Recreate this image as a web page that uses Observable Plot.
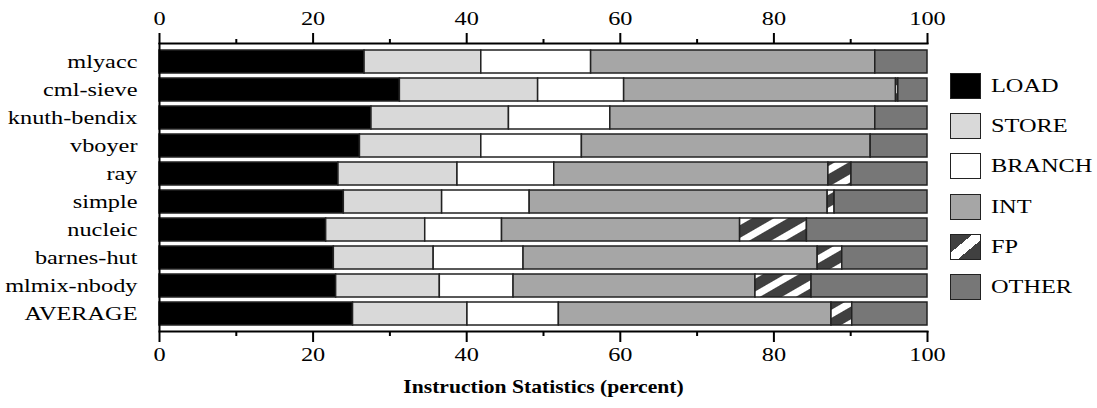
<!DOCTYPE html>
<html>
<head>
<meta charset="utf-8">
<script src="https://cdn.jsdelivr.net/npm/d3@7"></script>
<script src="https://cdn.jsdelivr.net/npm/@observablehq/plot@0.6"></script>
<style>
  body { margin: 0; background: #fff; }
  #wrap { position: relative; width: 1097px; height: 408px; }
  #legend { position: absolute; left: 950px; top: 72px; font-family: "Liberation Serif", "Times New Roman", serif; font-size: 19px; color: #000; }
  .item { display: flex; align-items: center; height: 28px; margin-bottom: 12.2px; }
  .sw { width: 29px; height: 24px; border: 1.5px solid #222; margin-right: 10px; flex: none; }
  .lab { display: inline-block; transform: scaleX(1.28); transform-origin: left center; white-space: nowrap; }
</style>
</head>
<body>
<div id="wrap"><div id="legend"></div></div>
<script>
// ---- data ----
const benchmarks = ["mlyacc", "cml-sieve", "knuth-bendix", "vboyer", "ray", "simple", "nucleic", "barnes-hut", "mlmix-nbody", "AVERAGE"];
const categories = ["LOAD", "STORE", "BRANCH", "INT", "FP", "OTHER"];
const loadPct   = [26.7, 31.3, 27.6, 26.1, 23.3, 24.0, 21.7, 22.7, 23.0, 25.2];
const storePct  = [15.2, 18.0, 17.9, 15.8, 15.5, 12.8, 12.9, 13.0, 13.5, 14.9];
const branchPct = [14.3, 11.2, 13.2, 13.1, 12.6, 11.4, 10.0, 11.7,  9.6, 11.9];
const intPct    = [37.0, 35.4, 34.5, 37.6, 35.7, 38.8, 31.0, 38.3, 31.5, 35.5];
const fpPct     = [ 0.0,  0.3,  0.0,  0.0,  3.0,  0.9,  8.7,  3.2,  7.3,  2.7];
const otherPct  = [ 6.8,  3.8,  6.8,  7.4,  9.9, 12.1, 15.7, 11.1, 15.1,  9.8];
const majorTicks = [0, 20, 40, 60, 80, 100];
const minorTicks = [10, 30, 50, 70, 90];
const axisTitle = "Instruction Statistics (percent)";

// ---- styles ----
const fills = ["#000000", "#d9d9d9", "#ffffff", "#a6a6a6", "url(#fpHatch)", "#777777"];
const legendBg = ["#000000", "#d9d9d9", "#ffffff", "#a6a6a6",
  "linear-gradient(to bottom right, #404040 0%, #404040 36%, #ffffff 36%, #ffffff 62%, #404040 62%, #404040 100%)", "#777777"];
const textStretch = 1.28;
const titleStretch = 1.2;

const series = [loadPct, storePct, branchPct, intPct, fpPct, otherPct];
const rows = [];
benchmarks.forEach((b, i) => {
  categories.forEach((c, j) => {
    rows.push({bench: b, cat: c, value: series[j][i]});
  });
});

const chart = Plot.plot({
  width: 1097,
  height: 408,
  marginLeft: 159,
  marginRight: 170,
  marginTop: 43,
  marginBottom: 77,
  style: {fontFamily: "'Liberation Serif', 'Times New Roman', serif", fontSize: "19px", background: "#fff", color: "#000"},
  x: {domain: [0, 100]},
  y: {domain: benchmarks, paddingInner: 0.18, paddingOuter: 0.09},
  color: {domain: categories, range: fills},
  marks: [
    Plot.barX(rows, Plot.stackX({
      x: "value", y: "bench", z: "cat", fill: "cat",
      stroke: "#222", strokeWidth: 1.5
    })),
    Plot.ruleX([0], {stroke: "#000", strokeWidth: 2}),
    Plot.frame({anchor: "top", stroke: "#000", strokeWidth: 2}),
    Plot.frame({anchor: "bottom", stroke: "#000", strokeWidth: 2}),
    Plot.axisX(majorTicks, {anchor: "top", tickSize: 11, tickPadding: 8, strokeWidth: 2, fontSize: 19, label: null}),
    Plot.axisX(minorTicks, {anchor: "top", tickSize: 5, strokeWidth: 2, tickFormat: () => "", label: null}),
    Plot.axisX(majorTicks, {anchor: "bottom", tickSize: 11, tickPadding: 5, strokeWidth: 2, fontSize: 19, label: null}),
    Plot.axisX(minorTicks, {anchor: "bottom", tickSize: 5, strokeWidth: 2, tickFormat: () => "", label: null}),
    Plot.axisY({anchor: "left", tickSize: 0, tickPadding: 22, fontSize: 19, label: null}),
    Plot.text([axisTitle], {frameAnchor: "bottom", dy: 61, fontWeight: "bold", fontSize: 18})
  ]
});

d3.select(chart).insert("defs", ":first-child").html(
  '<pattern id="fpHatch" patternUnits="userSpaceOnUse" width="18" height="18" patternTransform="rotate(-30)">' +
  '<rect width="18" height="18" fill="#404040"/><rect width="18" height="7" fill="#ffffff"/></pattern>'
);

// stretch text horizontally around its own anchor (reference type is a widened Times)
d3.select(chart).selectAll("text").each(function () {
  const xa = this.getAttribute("x");
  const x = xa && !/[a-z%]/i.test(xa) ? +xa : 0;
  if (xa && x) this.removeAttribute("x");
  const bold = (this.getAttribute("font-weight") || (this.parentNode.getAttribute && this.parentNode.getAttribute("font-weight"))) === "bold";
  const s = bold ? titleStretch : textStretch;
  const t = this.getAttribute("transform") || "";
  this.setAttribute("transform", `${t} translate(${x},0) scale(${s},1)`);
});

const wrap = document.getElementById("wrap");
wrap.insertBefore(chart, wrap.firstChild);

const legend = d3.select("#legend");
categories.forEach((c, j) => {
  const item = legend.append("div").attr("class", "item");
  item.append("div").attr("class", "sw").style("background", legendBg[j]);
  item.append("span").attr("class", "lab").text(c);
});
</script>
</body>
</html>
